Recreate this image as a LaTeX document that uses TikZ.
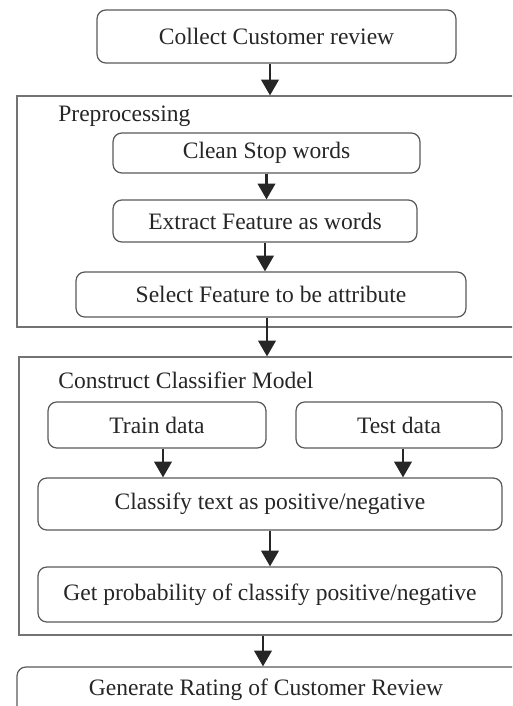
\documentclass[tikz,border=0pt]{standalone}
\usepackage{fontspec}
\setmainfont{Liberation Serif}
\usepackage{tikz}
\usetikzlibrary{arrows.meta,positioning,shapes}

\begin{document}
\begin{tikzpicture}[x=0.02cm,y=-0.02cm,font=\fontsize{13.4}{15}\selectfont]
	\tikzstyle{rect_rd}
	  =[draw=black!65, line width=0.7pt, rounded corners=5pt, inner sep=0pt, text=black!85]
	\tikzstyle{rect_frame}
	  =[draw=black!55, line width=0.7pt, rectangle, inner sep=0pt]
	\tikzstyle{lbl}
	  =[anchor=west, inner sep=0pt, text=black!85]
	\tikzstyle{arr}
	  =[-{Triangle[length=9pt,width=10pt]}, line width=1.3pt, black!85]

	\useasboundingbox (0,0) rectangle (512,706);
	\clip (0,0) rectangle (512,706);

	\node[rect_rd, minimum width=7.18cm, minimum height=1.06cm] (collect)
	  at (276.5,36.5) {Collect Customer review};

	% preprocessing block
	\node[rect_frame, minimum width=11.46cm, minimum height=4.62cm] (prep)
	  at (303.5,211.5) {};
	\node[lbl] (prep_title)
	  at (58,116) {Preprocessing};
	\node[rect_rd, minimum width=6.14cm, minimum height=0.80cm] (clean)
	  at (266.5,153) {Clean Stop words};
	\node[rect_rd, minimum width=6.08cm, minimum height=0.84cm] (extract)
	  at (265,221) {Extract Feature as words};
	\node[rect_rd, minimum width=7.80cm, minimum height=0.90cm] (select)
	  at (271,294.5) {Select Feature to be attribute};

	% classifier block
	\node[rect_frame, minimum width=11.42cm, minimum height=5.56cm] (construct)
	  at (304.5,496) {};
	\node[lbl] (construct_title)
	  at (58,380) {Construct Classifier Model};
	\node[rect_rd, minimum width=4.36cm, minimum height=0.92cm] (train)
	  at (157,425) {Train data};
	\node[rect_rd, minimum width=4.12cm, minimum height=0.92cm] (test)
	  at (399,425) {Test data};
	\node[rect_rd, minimum width=9.28cm, minimum height=1.04cm] (classify)
	  at (270,504) {Classify text as positive/negative};
	\node[rect_rd, minimum width=9.28cm, minimum height=1.10cm] (getprob)
	  at (270,594.5) {Get probability of classify positive/negative};

	\node[rect_rd, minimum width=11.46cm, minimum height=0.96cm] (generate)
	  at (303.5,691) {};
	\node[inner sep=0pt, text=black!85] (generate_txt)
	  at (266,690) {Generate Rating of Customer Review};

	\draw[arr] ([xshift=-0.13cm]collect.south)--([xshift=-0.13cm]collect.south |- prep.north);
	\draw[arr] (clean.south)--(clean.south |- extract.north);
	\draw[arr] (extract.south)--(extract.south |- select.north);
	\draw[arr] ([xshift=-0.08cm]select.south)--([xshift=-0.08cm]select.south |- construct.north);
	\draw[arr] ([xshift=0.12cm]train.south)--([xshift=0.12cm]train.south |- classify.north);
	\draw[arr] ([xshift=0.08cm]test.south)--([xshift=0.08cm]test.south |- classify.north);
	\draw[arr] (classify.south)--(classify.south |- getprob.north);
	\draw[arr] ([xshift=-0.06cm]generate_txt |- construct.south)--([xshift=-0.06cm]generate_txt |- generate.north);
\end{tikzpicture}
\end{document}
